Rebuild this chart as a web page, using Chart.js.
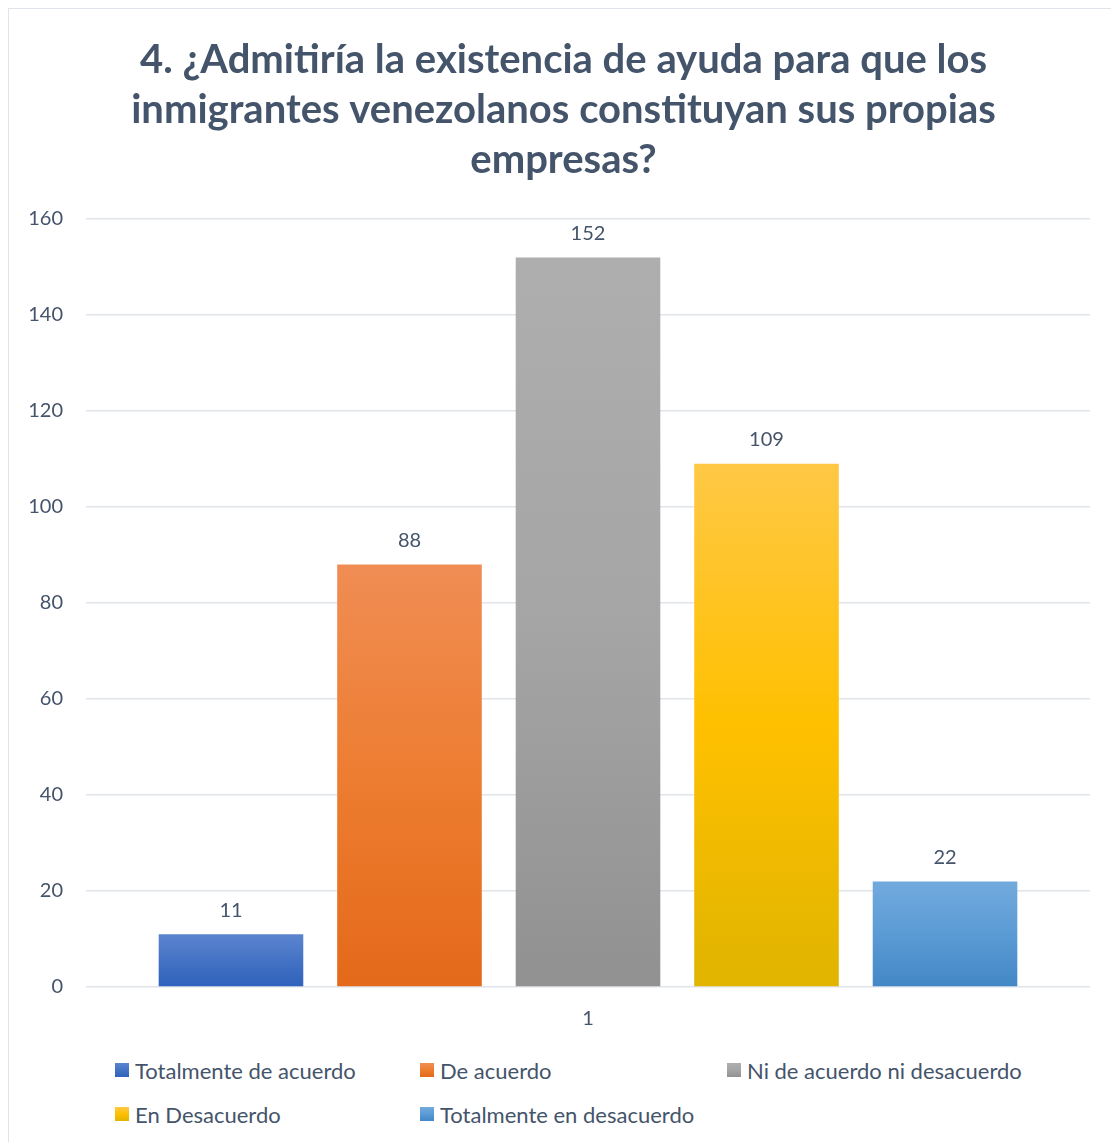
<!DOCTYPE html>
<html lang="es">
<head>
    <meta charset="UTF-8">
    <meta name="viewport" content="width=device-width, initial-scale=1.0">
    <script src="https://cdn.jsdelivr.net/npm/chart.js"></script>
    <title>Encuesta pregunta 4</title>
    <style>
        html, body {
            margin: 0;
            padding: 0;
            background: #fff;
            overflow: hidden;
        }
        .marco {
            position: absolute;
            left: 8px;
            top: 8px;
            width: 1130px;
            height: 1150px;
            border: 1px solid #dfe3ea;
            background: #fff;
        }
        .chart-box {
            position: absolute;
            left: 0;
            top: 0;
            width: 1116px;
            height: 1034px;
        }
        .leyenda {
            position: absolute;
            left: 106px;
            top: 1049px;
            width: 960px;
            display: grid;
            grid-template-columns: 305px 307px 320px;
            row-gap: 20px;
            font-family: Lato, "Open Sans", sans-serif;
            font-size: 22px;
            color: #44546a;
        }
        .leyenda div {
            display: flex;
            align-items: center;
            height: 24px;
            white-space: nowrap;
        }
        .leyenda span.caja {
            display: inline-block;
            width: 14px;
            height: 14px;
            margin-right: 6px;
        }
    </style>
</head>
<body>

<div class="marco">
    <div class="chart-box">
        <canvas id="grafico"></canvas>
    </div>
    <div class="leyenda" id="leyenda"></div>
</div>

<script>
    // datos
    const categorias = ['1'];
    const respuestas = ['Totalmente de acuerdo', 'De acuerdo', 'Ni de acuerdo ni desacuerdo', 'En Desacuerdo', 'Totalmente en desacuerdo'];
    const valores = [11, 88, 152, 109, 22];
    // colores: arriba, medio, abajo
    const colores = [
        ['#5c85cf', '#4472c4', '#2e62bc'],
        ['#f08d54', '#ed7d31', '#e4691a'],
        ['#aeaeae', '#a5a5a5', '#919191'],
        ['#ffc845', '#ffc000', '#e0b400'],
        ['#72aadd', '#5b9bd5', '#4387c6']
    ];
    const tituloLineas = ['4. ¿Admitiría la existencia de ayuda para que los', 'inmigrantes venezolanos constituyan sus propias', 'empresas?'];

    const textoColor = '#44546a';
    const fuente = 'Lato, "Open Sans", sans-serif';

    function degradado(i) {
        return function (context) {
            const chart = context.chart;
            if (!chart.chartArea) return colores[i][1];
            const y = chart.scales.y;
            const arriba = y.getPixelForValue(valores[i]);
            const abajo = y.getPixelForValue(0);
            const g = chart.ctx.createLinearGradient(0, arriba, 0, abajo);
            g.addColorStop(0, colores[i][0]);
            g.addColorStop(0.5, colores[i][1]);
            g.addColorStop(1, colores[i][2]);
            return g;
        };
    }

    // etiquetas de valor encima de cada barra
    const etiquetasValor = {
        id: 'etiquetasValor',
        afterDatasetsDraw(chart) {
            const ctx = chart.ctx;
            ctx.save();
            ctx.font = '20px ' + fuente;
            ctx.fillStyle = textoColor;
            ctx.textAlign = 'center';
            ctx.textBaseline = 'middle';
            chart.data.datasets.forEach((ds, i) => {
                const meta = chart.getDatasetMeta(i);
                meta.data.forEach((bar, j) => {
                    ctx.fillText(ds.data[j], bar.x, bar.y - 24);
                });
            });
            ctx.restore();
        }
    };

    const datasets = respuestas.map((r, i) => ({
        label: r,
        data: [valores[i]],
        backgroundColor: degradado(i),
        borderWidth: 0
    }));

    new Chart(document.getElementById('grafico'), {
        type: 'bar',
        data: {
            labels: categorias,
            datasets: datasets
        },
        options: {
            animation: false,
            responsive: true,
            maintainAspectRatio: false,
            categoryPercentage: 0.889,
            barPercentage: 0.81,
            layout: {
                padding: { left: 19, right: 26, bottom: 0 }
            },
            scales: {
                x: {
                    grid: { display: false },
                    border: { display: false },
                    ticks: {
                        color: textoColor,
                        font: { family: fuente, size: 20 },
                        padding: 12
                    }
                },
                y: {
                    min: 0,
                    max: 160,
                    afterFit(scale) { scale.width = 58; },
                    ticks: {
                        stepSize: 20,
                        color: textoColor,
                        padding: 23,
                        font: { family: fuente, size: 20 }
                    },
                    grid: {
                        color: '#dfe3ea',
                        lineWidth: 1.5,
                        drawTicks: false
                    },
                    border: { display: false }
                },
                // eje vacío a la derecha, solo para centrar el título como en el original
                derecha: {
                    position: 'right',
                    display: true,
                    afterFit(scale) { scale.width = 9; },
                    grid: { display: false },
                    border: { display: false },
                    ticks: { display: false }
                }
            },
            plugins: {
                legend: { display: false },
                tooltip: { enabled: false },
                title: {
                    display: true,
                    text: tituloLineas,
                    color: textoColor,
                    font: { family: fuente, size: 40, weight: 'bold', lineHeight: 1.25 },
                    padding: { top: 26, bottom: 34 }
                }
            }
        },
        plugins: [etiquetasValor]
    });

    // leyenda en HTML
    const leyenda = document.getElementById('leyenda');
    respuestas.forEach((r, i) => {
        const item = document.createElement('div');
        const caja = document.createElement('span');
        caja.className = 'caja';
        caja.style.background = `linear-gradient(${colores[i][0]}, ${colores[i][1]}, ${colores[i][2]})`;
        item.appendChild(caja);
        item.appendChild(document.createTextNode(r));
        leyenda.appendChild(item);
    });
</script>

</body>
</html>
